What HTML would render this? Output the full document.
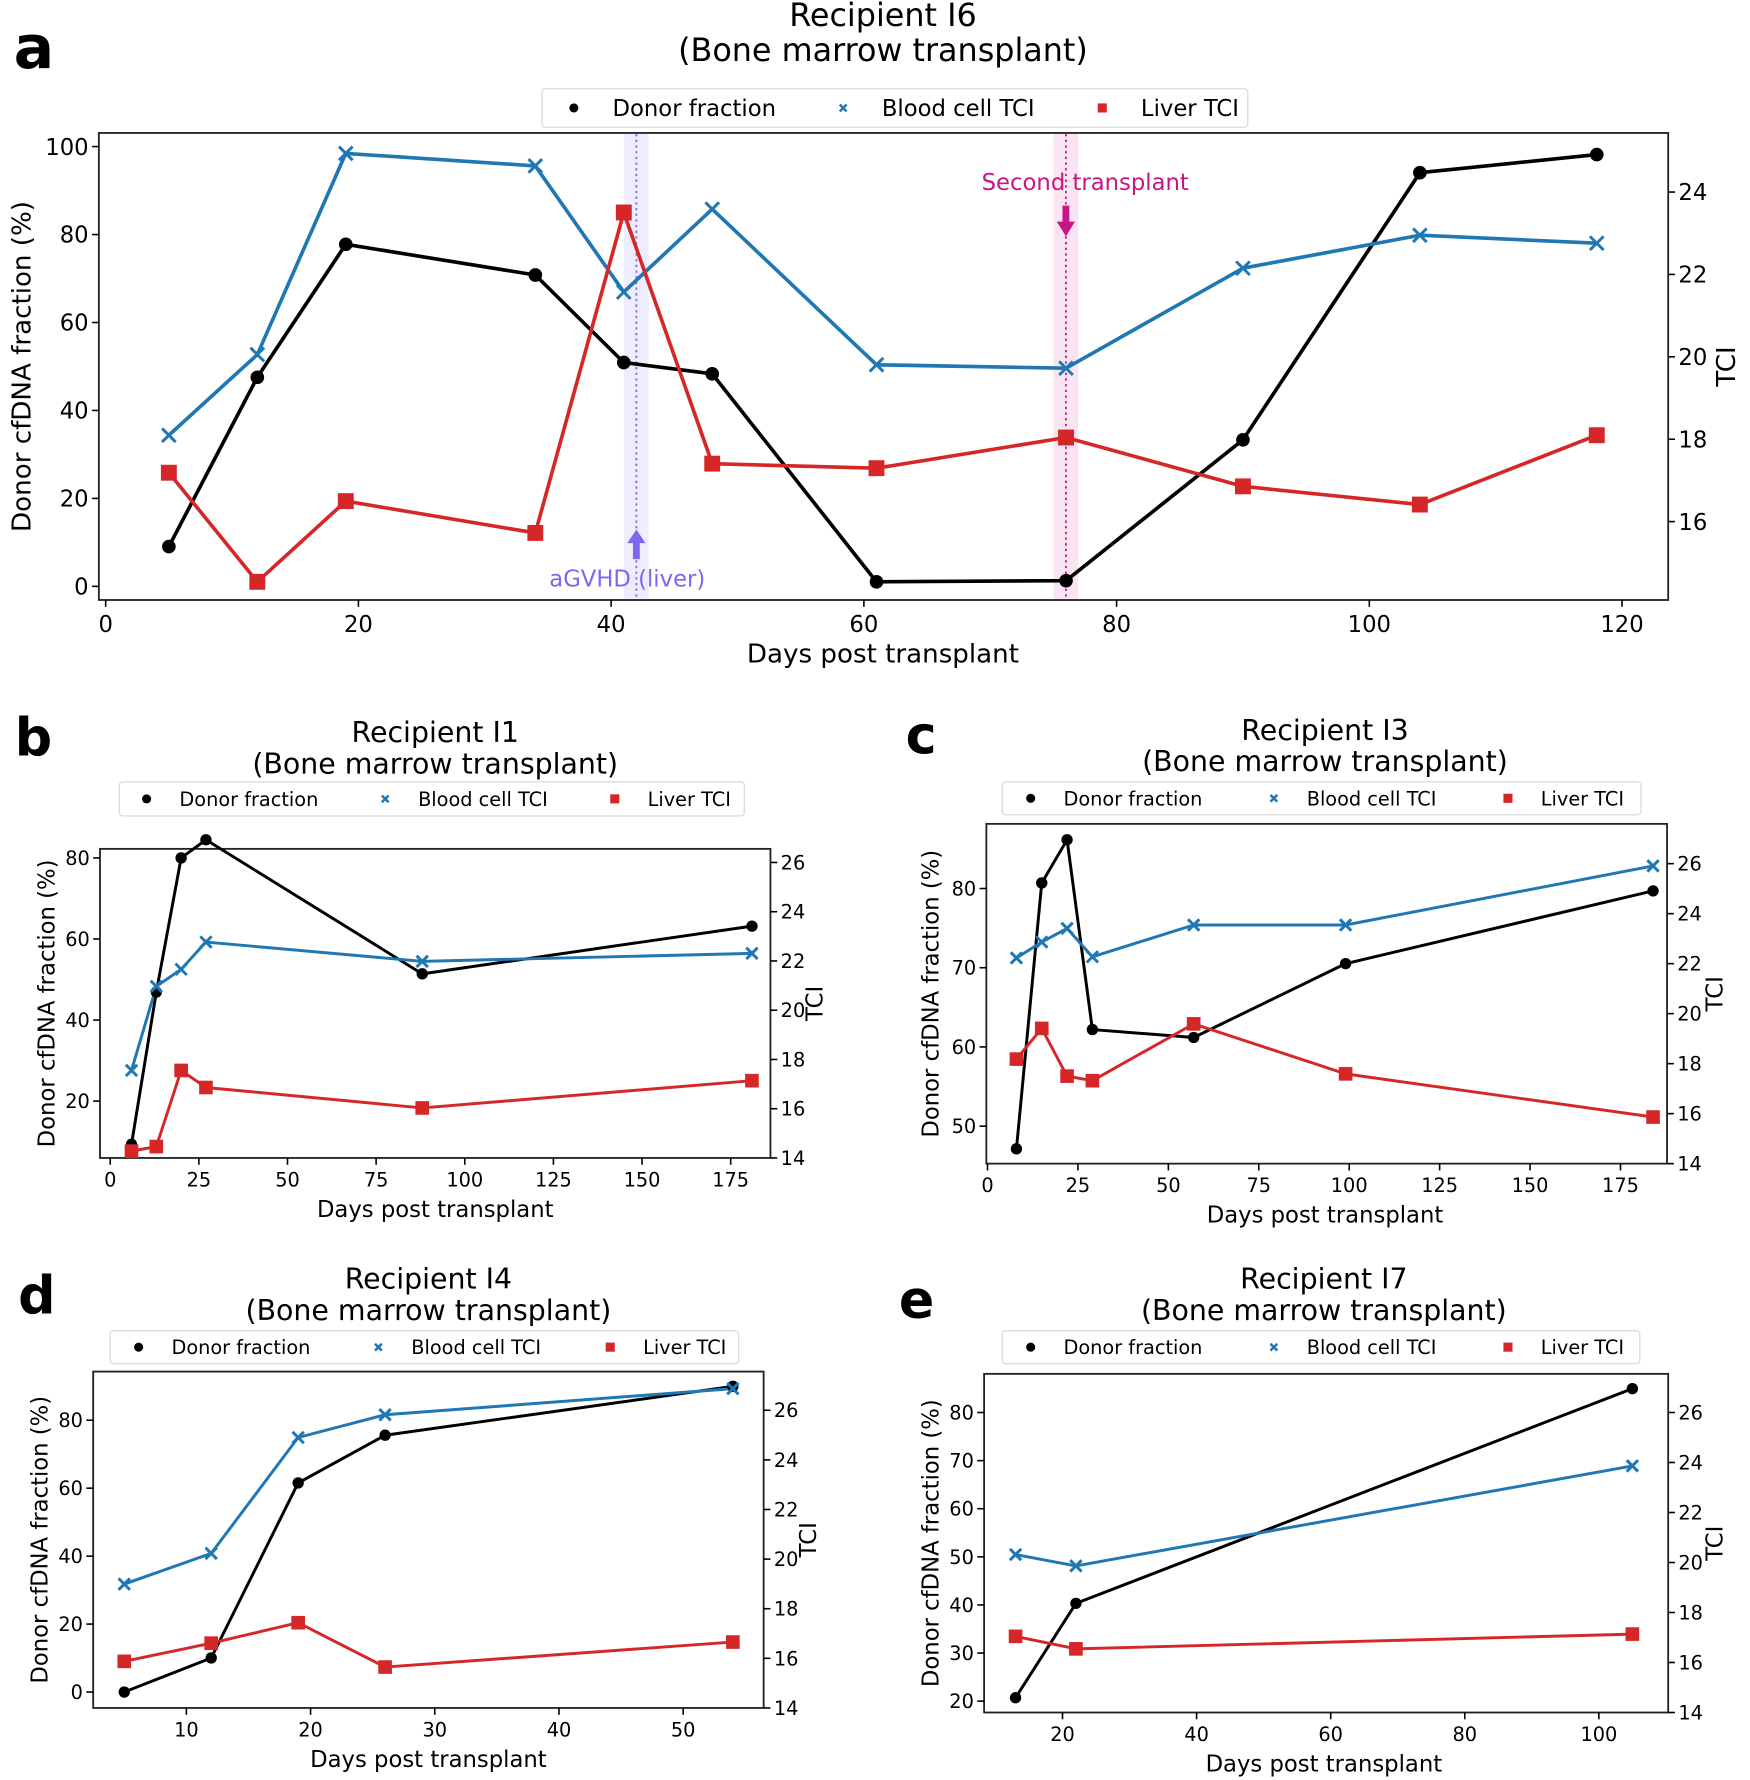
<!DOCTYPE html>
<html><head><meta charset="utf-8"><style>
html,body{margin:0;padding:0;background:#fff}
svg{display:block}
text{font-family:"DejaVu Sans","Liberation Sans",sans-serif}
</style></head><body>
<svg id="s" xmlns="http://www.w3.org/2000/svg" width="1750" height="1780" viewBox="0 0 1540 1566.4" preserveAspectRatio="none"></svg>
<script>
const S=document.getElementById('s');let h='';
const BL='#1f77b4',RD='#d62728';
function T(x,y,s,fs,o){o=o||{};h+=`<text x="${x}" y="${y}" font-size="${fs}" text-anchor="${o.a||'middle'}" fill="${o.c||'#000'}" ${o.t?`transform="${o.t}"`:''} ${o.w?`font-weight="${o.w}"`:''}>${s}</text>`;}
function line(pts,c,w){h+=`<polyline points="${pts.map(p=>p.join(',')).join(' ')}" fill="none" stroke="${c}" stroke-width="${w}" stroke-linejoin="round"/>`;}
function dot(x,y,r){h+=`<circle cx="${x}" cy="${y}" r="${r}" fill="#000"/>`;}
function xm(x,y,s,w){h+=`<path d="M${x-s},${y-s}L${x+s},${y+s}M${x-s},${y+s}L${x+s},${y-s}" stroke="${BL}" stroke-width="${w}"/>`;}
function sq(x,y,s){h+=`<rect x="${x-s}" y="${y-s}" width="${2*s}" height="${2*s}" fill="${RD}"/>`;}
function panel(p){
 const fs=p.fs;
 h+=`<rect x="${p.L}" y="${p.T}" width="${p.R-p.L}" height="${p.B-p.T}" fill="none" stroke="#222" stroke-width="1.6"/>`;
 p.xt.forEach(v=>{const x=p.fx(v);h+=`<line x1="${x}" y1="${p.B}" x2="${x}" y2="${p.B+6}" stroke="#000" stroke-width="1.4"/>`;T(x,p.B+fs+8,v,fs);});
 p.yl.forEach(v=>{const y=p.fl(v);h+=`<line x1="${p.L}" y1="${y}" x2="${p.L-6}" y2="${y}" stroke="#000" stroke-width="1.4"/>`;T(p.L-9,y+fs*0.36,v,fs,{a:'end'});});
 p.yr.forEach(v=>{const y=p.fr(v);h+=`<line x1="${p.R}" y1="${y}" x2="${p.R+6}" y2="${y}" stroke="#000" stroke-width="1.4"/>`;T(p.R+9,y+fs*0.36,v,fs,{a:'start'});});
 const cx=p.cx;
 T(cx,p.B+fs+35,'Days post transplant',p.lf);
 T(0,0,'Donor cfDNA fraction (%)',p.lf,{t:`translate(${p.yx},${(p.T+p.B)/2}) rotate(-90)`});
 T(0,0,'TCI',p.lf,{t:`translate(${p.tx},${(p.T+p.B)/2}) rotate(-90)`});
 T(p.tcx,p.ty1,p.title,p.tf);T(p.tcx,p.ty1+p.tf*1.1,'(Bone marrow transplant)',p.tf);
 T(p.lx,p.ly,p.letter,p.lf*2.3,{w:'bold',a:'start'});
 const g=p.leg;h+=`<rect x="${g[0]}" y="${g[1]}" width="${g[2]-g[0]}" height="${g[3]-g[1]}" rx="3" fill="#fff" stroke="#ddd" stroke-width="1.2"/>`;
 const my=(g[1]+g[3])/2;const gf=p.gf;
 dot(g[4],my,4);T(g[4]+gf*1.7,my+gf*0.36,'Donor fraction',gf,{a:'start'});
 xm(g[5],my,3,2.2);T(g[5]+gf*1.7,my+gf*0.36,'Blood cell TCI',gf,{a:'start'});
 sq(g[6],my,4);T(g[6]+gf*1.7,my+gf*0.36,'Liver TCI',gf,{a:'start'});
 const X=p.days.map(p.fx);
 const bk=X.map((x,i)=>[x,p.k[i]]),bl=X.map((x,i)=>[x,p.b[i]]),rd=X.map((x,i)=>[x,p.r[i]]);
 if(p.extra)p.extra();
 line(bk,'#000',p.lw);line(bl,BL,p.lw);line(rd,RD,p.lw);
 bk.forEach(q=>dot(q[0],q[1],p.ms));bl.forEach(q=>xm(q[0],q[1],p.ms,2.6));rd.forEach(q=>sq(q[0],q[1],p.ms+1));
}
panel({L:87,R:1468,T:117,B:528,fs:20,lf:23,tf:28,gf:20,lw:3.2,ms:6,
 fx:v=>93+11.12*v,fl:v=>516-3.87*v,fr:v=>314-36.25*(v-20),
 xt:[0,20,40,60,80,100,120],yl:[0,20,40,60,80,100],yr:[16,18,20,22,24],
 cx:777,yx:27,tx:1527,title:'Recipient I6',tcx:777,ty1:23,letter:'a',lx:12,ly:60,
 leg:[477,78,1098,112,505,742,970],
 days:[5,12,19,34,41,48,61,76,90,104,118],
 k:[481,332,215,242,319,329,512,511,387,152,136],
 b:[383,312,135,146,257,184,321,324,236,207,214],
 r:[416,512,441,469,187,408,412,385,428,444,383],
 extra:()=>{
  h+=`<rect x="549" y="118" width="22" height="409" fill="#7b68ee" opacity="0.12"/>`;
  h+=`<rect x="927" y="118" width="22" height="409" fill="#e0409a" opacity="0.14"/>`;
  h+=`<line x1="560" y1="118" x2="560" y2="527" stroke="#7b68ee" stroke-width="1.6" stroke-dasharray="2,3"/>`;
  h+=`<line x1="938" y1="118" x2="938" y2="527" stroke="#c71585" stroke-width="1.6" stroke-dasharray="2,3"/>`;
  h+=`<path d="M557,492V478H552L560,466L568,478H563V492Z" fill="#7b68ee"/>`;
  h+=`<path d="M935,181V195H930L938,208L946,195H941V181Z" fill="#c71585"/>`;
  T(552,516,'aGVHD (liver)',20,{c:'#7b68ee'});
  T(955,167,'Second transplant',20,{c:'#c71585'});
 }});
panel({L:88,R:678,T:747,B:1019,fs:17,lf:20,tf:25,gf:17,lw:2.6,ms:5,
 fx:v=>97+3.12*v,fl:v=>969-3.567*(v-20),fr:v=>1019-21.67*(v-14),
 xt:[0,25,50,75,100,125,150,175],yl:[20,40,60,80],yr:[14,16,18,20,22,24,26],
 cx:383,yx:48,tx:724,title:'Recipient I1',tcx:383,ty1:653,letter:'b',lx:13,ly:665,
 leg:[105,688,655,718,129,339,541],
 days:[6,13,20,27,88,181],
 k:[1007,873,755,739,857,815],b:[942,868,853,829,846,839],r:[1013,1009,942,957,975,951]});
panel({L:868,R:1467,T:725,B:1024,fs:17,lf:20,tf:25,gf:17,lw:2.6,ms:5,
 fx:v=>869+3.183*v,fl:v=>991-6.97*(v-50),fr:v=>1024-22*(v-14),
 xt:[0,25,50,75,100,125,150,175],yl:[50,60,70,80],yr:[14,16,18,20,22,24,26],
 cx:1166,yx:826,tx:1516,title:'Recipient I3',tcx:1166,ty1:651,letter:'c',lx:797,ly:663,
 leg:[882,688,1444,717,907,1121,1327],
 days:[8,15,22,29,57,99,184],
 k:[1011,777,739,906,913,848,784],b:[843,829,817,842,814,814,762],r:[932,905,947,951,901,945,983]});
panel({L:82,R:672,T:1207,B:1503,fs:17,lf:20,tf:25,gf:17,lw:2.6,ms:5,
 fx:v=>164+10.93*(v-10),fl:v=>1489-2.99*v,fr:v=>1503-21.83*(v-14),
 xt:[10,20,30,40,50],yl:[0,20,40,60,80],yr:[14,16,18,20,22,24,26],
 cx:377,yx:42,tx:718,title:'Recipient I4',tcx:377,ty1:1134,letter:'d',lx:16,ly:1156,
 leg:[97,1171,650,1200,122,333,537],
 days:[5,12,19,26,54],
 k:[1489,1459,1305,1263,1220],b:[1394,1367,1265,1245,1222],r:[1462,1446,1428,1467,1445]});
panel({L:866,R:1468,T:1209,B:1507,fs:17,lf:20,tf:25,gf:17,lw:2.6,ms:5,
 fx:v=>935+5.9*(v-20),fl:v=>1497-4.233*(v-20),fr:v=>1507-22*(v-14),
 xt:[20,40,60,80,100],yl:[20,30,40,50,60,70,80],yr:[14,16,18,20,22,24,26],
 cx:1165,yx:826,tx:1516,title:'Recipient I7',tcx:1165,ty1:1134,letter:'e',lx:791,ly:1160,
 leg:[882,1171,1443,1200,907,1121,1327],
 days:[13,22,105],
 k:[1494,1411,1222],b:[1368,1378,1290],r:[1440,1451,1438]});
S.innerHTML=h;
</script>
</body></html>
